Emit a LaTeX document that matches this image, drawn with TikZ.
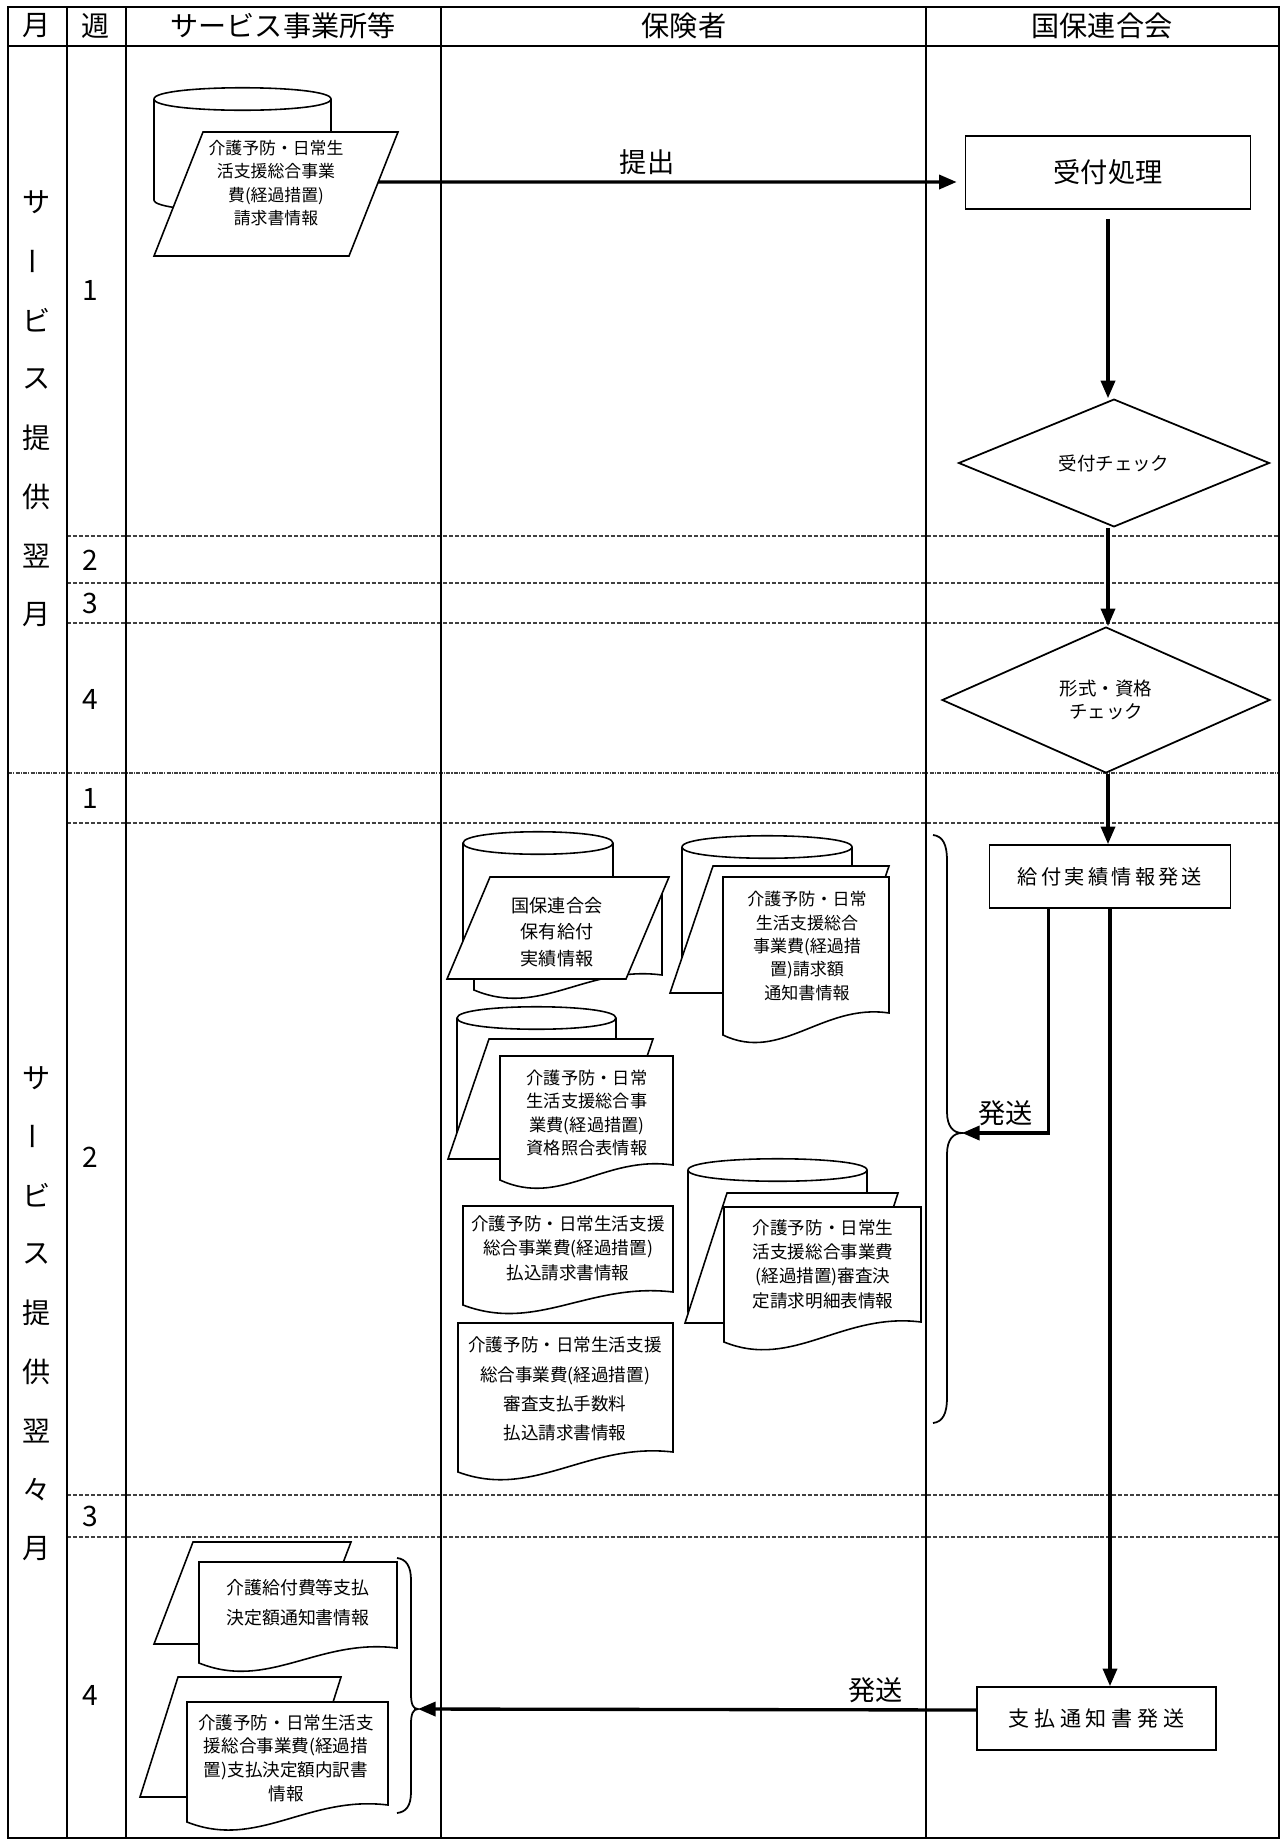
\documentclass[tikz,border=0pt]{standalone}
\usepackage{fontspec}
\setmainfont{Noto Sans CJK JP}
\usetikzlibrary{arrows.meta, shapes.geometric}

\begin{document}
\begin{tikzpicture}[
    x=0.02cm, y=-0.02cm,
    every node/.style={font=\fontsize{10}{13.5}\selectfont},
    frameline/.style={line width=1.6pt},
    weekline/.style={line width=0.6pt, black!75, dash pattern=on 2.3pt off 1.1pt},
    monthline/.style={line width=0.6pt, black!75, dash pattern=on 2.3pt off 0.7pt on 0.6pt off 0.7pt},
    headtext/.style={font=\fontsize{16}{18}\selectfont},
    bigtext/.style={font=\fontsize{15.5}{18}\selectfont},
    docsheet/.style={draw, line width=0.9pt, fill=white},
    infotext/.style={align=center, inner sep=0pt},
    procbox/.style={rectangle, draw, line width=1pt, fill=white, inner sep=0pt},
    decision/.style={diamond, draw, line width=1pt, fill=white, inner sep=0pt,
        align=center, font=\fontsize{10.5}{13}\selectfont},
    sendarrow/.style={line width=1.9pt, -{Triangle[length=10pt, width=8pt]}},
    bracket/.style={line width=1pt},
]
\useasboundingbox (0,0) rectangle (1281,1843);

% Week and month rows
\foreach \yy in {536,583,623,823,1495,1537} {
    \draw[weekline] (67,\yy) -- (1279,\yy);
}
\draw[monthline] (8,773) -- (1279,773);

% Table frame
\draw[frameline] (8,7) rectangle (1279,1838);
\draw[frameline] (8,46) -- (1279,46);
\foreach \xx in {67,126,441,926} {
    \draw[frameline] (\xx,7) -- (\xx,1838);
}

% Header
\node[headtext] (h-month) at (37,26) {月};
\node[headtext] (h-week) at (96,26) {週};
\node[headtext] (h-office) at (283,26) {サービス事業所等};
\node[headtext] (h-insurer) at (684,26) {保険者};
\node[headtext] (h-union) at (1102,26) {国保連合会};

% Month column
\foreach \ch [count=\i from 0] in {サ,{\rotatebox{90}{ー}},ビ,ス,提,供,翌,月} {
    \node[headtext] (ma\i) at (37,{202+59*\i}) {\ch};
}
\foreach \ch [count=\i from 0] in {サ,{\rotatebox{90}{ー}},ビ,ス,提,供,翌,々,月} {
    \node[headtext] (mb\i) at (37,{1078+58.8*\i}) {\ch};
}

% Week numbers
\foreach \wk/\yy [count=\i] in {1/290,2/560,3/603,4/699,1/798,2/1157,3/1516,4/1695} {
    \node[headtext] (w\i) at (90,\yy) {\wk};
}

% Sheet behind the cylinder
\filldraw[docsheet] (474,885) -- (474,990) .. controls (540,1018) and (587,965) .. (662,975) -- (662,885) -- cycle;

% Cylinders
\foreach \xl/\xr/\yt/\yb in {154/331/99/200, 463/613/843/941, 682/852/847/957,
                             457/616/1018/1133, 688/867/1170/1312} {
    \filldraw[docsheet] (\xl,\yt) -- (\xl,\yb) .. controls (\xl,\yb+15) and (\xr,\yb+15) .. (\xr,\yb)
        -- (\xr,\yt) .. controls (\xr,\yt-15) and (\xl,\yt-15) .. cycle;
    \draw[docsheet, fill=none] (\xl,\yt) .. controls (\xl,\yt+15) and (\xr,\yt+15) .. (\xr,\yt);
}

% Back parallelograms
\foreach \xa/\xb/\yt/\xc/\yb in {713/889/866/670/993, 489/653/1039/448/1159, 727/898/1193/685/1323,
                                 193/351/1542/154/1644, 178/341/1677/140/1797} {
    \filldraw[docsheet] (\xa,\yt) -- (\xb,\yt) -- ({\xb-\xa+\xc},\yb) -- (\xc,\yb) -- cycle;
}

% Documents
\foreach \xl/\xr/\yt/\yl/\yr in {723/889/877/1035/1013, 500/673/1056/1180/1165, 463/673/1206/1305/1292,
                                 458/673/1323/1472/1452, 724/921/1207/1342/1322,
                                 199/397/1562/1663/1648, 187/388/1702/1822/1805} {
    \filldraw[docsheet] (\xl,\yt) -- (\xl,\yl)
        .. controls ({\xl+0.35*(\xr-\xl)},\yl+28) and ({\xl+0.6*(\xr-\xl)},\yr-10) .. (\xr,\yr)
        -- (\xr,\yt) -- cycle;
}

% Front parallelograms
\foreach \xa/\xb/\yt/\xc/\yb in {203/398/132/154/256, 490/669/877/447/979} {
    \filldraw[docsheet] (\xa,\yt) -- (\xb,\yt) -- ({\xb-\xa+\xc},\yb) -- (\xc,\yb) -- cycle;
}

% Sheet texts
\node[infotext, font=\fontsize{9.6}{13.4}\selectfont] (seikyu) at (276,183)
    {介護予防・日常生\\活支援総合事業\\費(経過措置)\\請求書情報};
\node[infotext, font=\fontsize{10.3}{15}\selectfont] (hoyu) at (557,932)
    {国保連合会\\保有給付\\実績情報};
\node[infotext, font=\fontsize{9.7}{13.3}\selectfont] (seikyugaku) at (807,946)
    {介護予防・日常\\生活支援総合\\事業費(経過措\\置)請求額\\通知書情報};
\node[infotext, font=\fontsize{9.8}{13.4}\selectfont] (shikaku) at (587,1113)
    {介護予防・日常\\生活支援総合事\\業費(経過措置)\\資格照合表情報};
\node[infotext, font=\fontsize{10}{13.9}\selectfont] (haraikomi) at (568,1248)
    {介護予防・日常生活支援\\総合事業費(経過措置)\\払込請求書情報};
\node[infotext, font=\fontsize{10}{16.6}\selectfont] (tesuryo) at (565,1389)
    {介護予防・日常生活支援\\総合事業費(経過措置)\\審査支払手数料\\払込請求書情報};
\node[infotext, font=\fontsize{10}{13.8}\selectfont] (shinsa) at (823,1264)
    {介護予防・日常生\\活支援総合事業費\\(経過措置)審査決\\定請求明細表情報};
\node[infotext, font=\fontsize{10.2}{17}\selectfont] (ketteigaku) at (298,1603)
    {介護給付費等支払\\決定額通知書情報};
\node[infotext, font=\fontsize{10}{13.4}\selectfont] (uchiwake) at (286,1758)
    {介護予防・日常生活支\\援総合事業費(経過措\\置)支払決定額内訳書\\情報};
\coordinate (seikyu-out) at (378,182);

% Union steps
\node[procbox, minimum width=5.7cm, minimum height=1.46cm, bigtext] (uketsuke) at (1108,172.5) {受付処理};
\node[decision, minimum width=6.22cm, minimum height=2.08cm] (chk1) at (1114,463) {受付チェック};
\node[decision, minimum width=6.56cm, minimum height=2.92cm] (chk2) at (1106,700) {形式・資格\\チェック};
\node[procbox, minimum width=4.82cm, minimum height=1.26cm,
      font=\fontsize{11.5}{13}\selectfont\addfontfeature{LetterSpace=16}] (kyufu) at (1110,876.5) {給付実績情報発送};
\node[procbox, minimum width=4.78cm, minimum height=1.26cm,
      font=\fontsize{12}{13}\selectfont\addfontfeature{LetterSpace=22}] (shiharai) at (1096.5,1718.5) {支払通知書発送};

% Braces
\draw[bracket] (933,835) .. controls (943,836) and (947,845) .. (947,860) -- (947,1112)
    .. controls (947,1126) and (953,1133) .. (962,1133) coordinate (tipR)
    .. controls (953,1133) and (947,1140) .. (947,1154) -- (947,1398)
    .. controls (947,1413) and (943,1422) .. (933,1423);
\draw[bracket] (397,1558) .. controls (406,1559) and (411,1566) .. (411,1580) -- (411,1694)
    .. controls (411,1704) and (413,1709) .. (418,1709) coordinate (tipL)
    .. controls (413,1709) and (411,1714) .. (411,1724) -- (411,1792)
    .. controls (411,1806) and (406,1812) .. (397,1813);

% Flow
\draw[sendarrow] (seikyu-out) -- ([xshift=-0.16cm, yshift=-0.19cm]uketsuke.west)
    node[pos=0.465, above, bigtext] {提出};
\draw[sendarrow] ([yshift=-0.18cm]uketsuke.south) -- (uketsuke.south |- chk1.north);
\draw[sendarrow] (uketsuke.south |- chk1.south) -- (uketsuke.south |- chk2.north);
\draw[sendarrow] (uketsuke.south |- chk2.south) -- (uketsuke.south |- kyufu.north);
\draw[sendarrow] (kyufu.south) -- (kyufu.south |- shiharai.north);
\draw[sendarrow] ([xshift=1.2cm]kyufu.south west) |- (tipR)
    node[pos=0.75, above, bigtext] {発送};
\draw[sendarrow] ([yshift=0.17cm]shiharai.west) -- (tipL)
    node[pos=0.18, above, bigtext] {発送};

\end{tikzpicture}
\end{document}
